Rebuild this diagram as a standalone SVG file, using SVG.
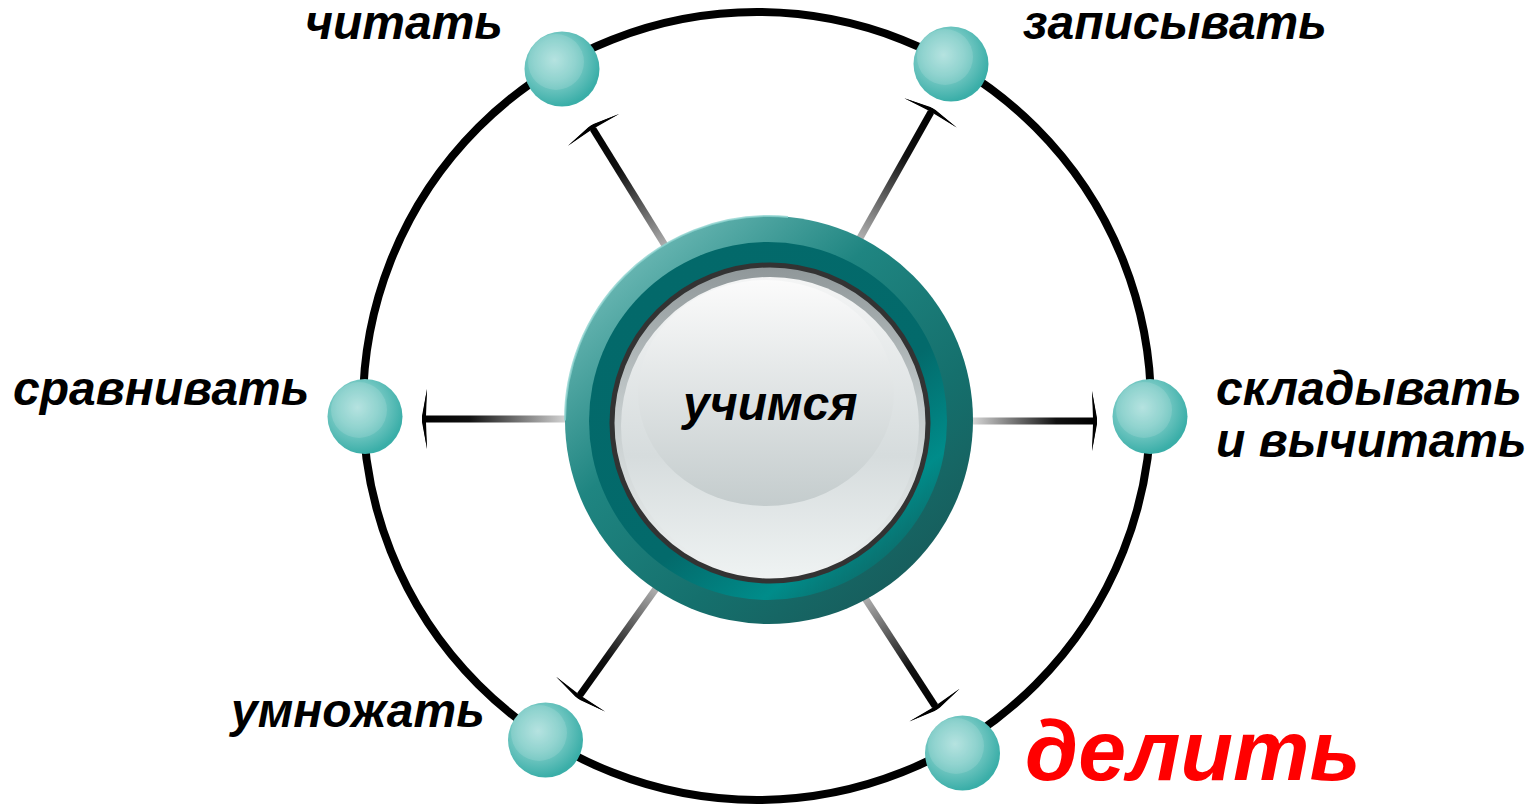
<svg xmlns="http://www.w3.org/2000/svg" width="1535" height="804" viewBox="0 0 1535 804">
<style>
.lbl{font-family:"Liberation Sans",Arial,sans-serif;font-weight:bold;font-style:italic;font-size:48px;fill:#000}
.red{font-size:86px;fill:#ff0000}
.ctr{font-size:48px}
.ball{fill:url(#ballGrad)}
.hl{fill:#ffffff;opacity:0.13}
.conn{fill:none;stroke-width:7;marker-end:url(#tbar)}
</style>
<defs>
<radialGradient id="ballGrad" cx="0.4" cy="0.38" r="0.62">
<stop offset="0" stop-color="#abdfdc"/>
<stop offset="0.45" stop-color="#80cdc8"/>
<stop offset="1" stop-color="#3aaea8"/>
</radialGradient>
<linearGradient id="outerRing" x1="0.15" y1="0.1" x2="0.85" y2="0.9">
<stop offset="0" stop-color="#6bb8b4"/>
<stop offset="0.35" stop-color="#1f8581"/>
<stop offset="0.7" stop-color="#15706d"/>
<stop offset="1" stop-color="#175d5c"/>
</linearGradient>
<linearGradient id="innerRing" x1="0.2" y1="0.1" x2="0.85" y2="0.9">
<stop offset="0" stop-color="#03696a"/>
<stop offset="0.6" stop-color="#036a6b"/>
<stop offset="0.85" stop-color="#008c8a"/>
<stop offset="1" stop-color="#0c6b69"/>
</linearGradient>
<linearGradient id="faceRim" x1="0" y1="0" x2="0" y2="1">
<stop offset="0" stop-color="#8f9799"/>
<stop offset="0.45" stop-color="#c3cacb"/>
<stop offset="1" stop-color="#f0f3f3"/>
</linearGradient>
<linearGradient id="faceBase" x1="0" y1="0" x2="0" y2="1">
<stop offset="0" stop-color="#f4f5f5"/>
<stop offset="0.6" stop-color="#d6dcdd"/>
<stop offset="1" stop-color="#eef2f2"/>
</linearGradient>
<linearGradient id="gloss" x1="0" y1="0" x2="0" y2="1">
<stop offset="0" stop-color="#fbfbfb"/>
<stop offset="1" stop-color="#c4cccd"/>
</linearGradient>
<linearGradient id="gTL" gradientUnits="userSpaceOnUse" x1="679" y1="268" x2="593" y2="129">
<stop offset="0" stop-color="#dcdcdc"/><stop offset="0.7" stop-color="#111"/><stop offset="1" stop-color="#000"/>
</linearGradient>
<linearGradient id="gTR" gradientUnits="userSpaceOnUse" x1="847" y1="261" x2="931" y2="112">
<stop offset="0" stop-color="#dcdcdc"/><stop offset="0.7" stop-color="#111"/><stop offset="1" stop-color="#000"/>
</linearGradient>
<linearGradient id="gL" gradientUnits="userSpaceOnUse" x1="570" y1="0" x2="426" y2="0">
<stop offset="0" stop-color="#dcdcdc"/><stop offset="0.7" stop-color="#111"/><stop offset="1" stop-color="#000"/>
</linearGradient>
<linearGradient id="gR" gradientUnits="userSpaceOnUse" x1="970" y1="0" x2="1093" y2="0">
<stop offset="0" stop-color="#dcdcdc"/><stop offset="0.7" stop-color="#111"/><stop offset="1" stop-color="#000"/>
</linearGradient>
<linearGradient id="gBL" gradientUnits="userSpaceOnUse" x1="670" y1="569" x2="580" y2="695">
<stop offset="0" stop-color="#dcdcdc"/><stop offset="0.7" stop-color="#111"/><stop offset="1" stop-color="#000"/>
</linearGradient>
<linearGradient id="gBR" gradientUnits="userSpaceOnUse" x1="852" y1="578" x2="935" y2="706">
<stop offset="0" stop-color="#dcdcdc"/><stop offset="0.7" stop-color="#111"/><stop offset="1" stop-color="#000"/>
</linearGradient>
<marker id="tbar" markerUnits="userSpaceOnUse" viewBox="-6 -32 14 64" refX="0" refY="0" markerWidth="14" markerHeight="64" orient="auto" overflow="visible">
<path d="M -1 -30 L 4 -3 L 4 3 L -1 30 L 0 3 L -2 0 L 0 -3 Z" fill="#000"/>
<path d="M -1 -30 L 1 0 L -1 30 L 4 0 Z" fill="#000"/>
</marker>
</defs>
<rect width="1535" height="804" fill="#ffffff"/>
<circle id="orbit" cx="757" cy="406" r="394" fill="none" stroke="#000" stroke-width="8"/>
<g id="connectors">
<line class="conn" x1="679" y1="268" x2="593" y2="129" stroke="url(#gTL)"/>
<line class="conn" x1="847" y1="261" x2="931" y2="112" stroke="url(#gTR)"/>
<line class="conn" x1="570" y1="419" x2="426" y2="419" stroke="url(#gL)"/>
<line class="conn" x1="970" y1="421" x2="1093" y2="421" stroke="url(#gR)"/>
<line class="conn" x1="670" y1="569" x2="580" y2="695" stroke="url(#gBL)"/>
<line class="conn" x1="852" y1="578" x2="935" y2="706" stroke="url(#gBR)"/>
</g>
<g id="center">
<circle cx="769" cy="420" r="204" fill="url(#outerRing)"/>
<circle cx="769" cy="420" r="204" fill="none" stroke="#8fd3d0" stroke-width="2" stroke-dasharray="0 640 340 300" opacity="0.8"/>
<circle cx="768" cy="421" r="179" fill="url(#innerRing)"/>
<circle cx="770" cy="423" r="157" fill="url(#faceRim)"/>
<circle cx="770" cy="426" r="149" fill="url(#faceBase)"/>
<ellipse cx="766" cy="393" rx="128" ry="113" fill="url(#gloss)"/>
<circle cx="770" cy="423" r="158" fill="none" stroke="#333" stroke-width="5"/>
<text class="lbl ctr" x="683" y="420">учимся</text>
</g>
<g id="n-chitat">
<circle class="ball" cx="562" cy="69" r="37.5"/>
<circle class="hl" cx="556" cy="62" r="28"/>
<text class="lbl" x="305" y="39">читать</text>
</g>
<g id="n-zapisyvat">
<circle class="ball" cx="951" cy="64" r="37.5"/>
<circle class="hl" cx="945" cy="57" r="28"/>
<text class="lbl" x="1023" y="39">записывать</text>
</g>
<g id="n-sravnivat">
<circle class="ball" cx="365" cy="416.5" r="37.5"/>
<circle class="hl" cx="359" cy="410" r="28"/>
<text class="lbl" x="13" y="405">сравнивать</text>
</g>
<g id="n-skladyvat">
<circle class="ball" cx="1150" cy="416.5" r="37.5"/>
<circle class="hl" cx="1144" cy="410" r="28"/>
<text class="lbl" x="1216" y="405">складывать</text>
<text class="lbl" x="1216" y="457">и вычитать</text>
</g>
<g id="n-umnozhat">
<circle class="ball" cx="545.5" cy="740" r="37.5"/>
<circle class="hl" cx="539" cy="733" r="28"/>
<text class="lbl" x="231" y="727">умножать</text>
</g>
<g id="n-delit">
<circle class="ball" cx="962.5" cy="753" r="37.5"/>
<circle class="hl" cx="956" cy="746" r="28"/>
<text class="lbl red" x="1025" y="780">делить</text>
</g>
</svg>
